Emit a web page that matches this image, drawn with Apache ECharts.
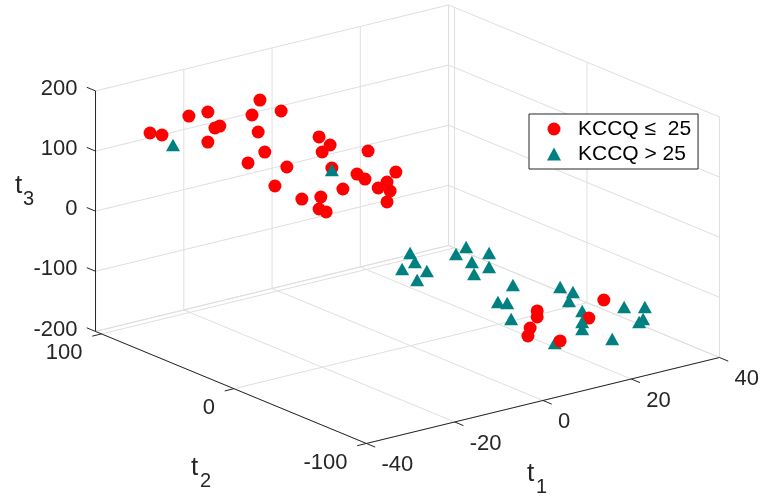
<!DOCTYPE html>
<html>
<head>
<meta charset="utf-8">
<script src="https://cdn.jsdelivr.net/npm/echarts@6/dist/echarts.min.js"></script>
<style>
  html, body { margin: 0; padding: 0; background: #fff; }
  #chart { width: 763px; height: 497px; }
</style>
</head>
<body>
<div id="chart"></div>
<script>
// ---- scores (t1, t2, t3) ----
const lowT1  = [-32.0, -30.8, -27.7, -18.9, -20.3, -22.2, -20.4, -13.4, -7.1, -10.5, -8.3, -7.5, -14.3, -4.0, -3.7, -2.1,
                4.8, 2.8, 4.0, 9.2, 2.2, 4.8, 4.9, 5.7, 13.4, 13.7, 12.9, 19.7, 18.7, 17.9, 22.2, 15.7,
                22.8, 6.2, 9.2, 3.1, 5.6, 17.9, 9.9];
const lowT2  = [90, 85, 75, 90, 80, 70, 85, 75, 90, 80, 70, 85, 75, 80, 90, 75,
                85, 70, 80, 90, 75, 85, 80, 70, 85, 80, 75, 90, 80, 75, 85, 70,
                -70, -75, -65, -80, -70, -75, -80];
const lowT3  = [128.9, 128.0, 163.1, 140.4, 125.4, 141.2, 97.7, 139.3, 139.2, 101.3, 141.4, 58.0, 61.1, 31.4, -9.8, -20.7,
                61.1, 65.0, 42.1, -3.0, -25.0, -58.7, -59.2, -13.4, -15.9, -20.2, 32.4, -54.9, -34.1, -43.0, -28.3, -52.8,
                -101.0, -85.0, -109.4, -103.2, -130.1, -117.7, -136.9];

const highT1 = [-28.3, 4.7,
                -19.6, -21.5, -19.9, -17.3, -22.5, -9.2, -9.9, -3.2, -4.1, -4.7, -5.1, -0.8, -1.2, 2.4, 0.3,
                15.9, 15.8, 13.4, 19.4, 14.9, 17.9, 30.4, 30.6, 33.2, 30.8, 21.7, 13.2];
const highT2 = [85, 75,
                -65, -75, -60, -70, -80, -65, -75, -70, -60, -75, -65, -80, -70, -65, -75,
                -60, -70, -75, -65, -80, -70, -60, -75, -65, -70, -80, -65];
const highT3 = [106.9, 15.4,
                48.4, 45.9, 17.8, 18.9, 22.4, 28.2, 50.2, 23.7, 1.1, 7.6, -12.4, -24.8, -61.4, -74.0, -87.7,
                -76.1, -75.2, -81.3, -117.7, -114.2, -140.3, -135.2, -122.0, -155.7, -151.8, -154.7, -159.9];

const seriesNames = ['KCCQ \u2264  25', 'KCCQ > 25'];

// ---- axes ----
const T1_TICKS = [-40, -20, 0, 20, 40];
const T2_TICKS = [-100, 0, 100];
const T3_TICKS = [-200, -100, 0, 100, 200];
const LIM1 = [-40, 40];
const LIM2 = [-100, 104.5];
const LIM3 = [-200, 200];

// ---- view ----
const VIEW_AZ = -37.5, VIEW_EL = 18.5;
const ASPECT = [1, 1, 0.57];
const SCALE = 445;            // px per unit of the normalised box
const CENTER = [407.5, 224.2];

const RED = '#ff0000';
const TEAL = '#008080';
const GRID_COLOR = '#dfdfdf';
const AXIS_COLOR = '#262626';
const FONT = '"Liberation Sans", Helvetica, Arial, sans-serif';

const rad = Math.PI / 180;
const ca = Math.cos(VIEW_AZ * rad), sa = Math.sin(VIEW_AZ * rad);
const ce = Math.cos(VIEW_EL * rad), se = Math.sin(VIEW_EL * rad);

function nrm(v, lim, a) { return (v - (lim[0] + lim[1]) / 2) / (lim[1] - lim[0]) * a; }
function proj(t1, t2, t3) {
  const x = nrm(t1, LIM1, ASPECT[0]), y = nrm(t2, LIM2, ASPECT[1]), z = nrm(t3, LIM3, ASPECT[2]);
  return {
    u: x * ca + y * sa,
    v: -x * se * sa + y * se * ca + z * ce,
    d: x * sa * ce - y * ca * ce + z * se
  };
}

// projected extent of the box
let umin = Infinity, umax = -Infinity, vmin = Infinity, vmax = -Infinity;
[LIM1[0], LIM1[1]].forEach(a => [LIM2[0], LIM2[1]].forEach(b => [LIM3[0], LIM3[1]].forEach(c => {
  const p = proj(a, b, c);
  umin = Math.min(umin, p.u); umax = Math.max(umax, p.u);
  vmin = Math.min(vmin, p.v); vmax = Math.max(vmax, p.v);
})));

function zip3(a, b, c) { return a.map((v, i) => [v, b[i], c[i]]); }

function frameRender(params, api) {
  const P = (a, b, c) => { const p = proj(a, b, c); return api.coord([p.u, p.v]); };
  const kids = [];
  const line = (p1, p2, color) => kids.push({
    type: 'line', shape: { x1: p1[0], y1: p1[1], x2: p2[0], y2: p2[1] },
    style: { stroke: color, lineWidth: 1 }
  });
  const text = (x, y, str, size, align, color) => kids.push({
    type: 'text',
    style: { x: x, y: y, text: str, fontSize: size, fontFamily: FONT, fill: color || AXIS_COLOR,
             align: align, verticalAlign: 'middle' }
  });
  const [x0, x1] = LIM1, [y0, y1] = LIM2, [z0, z1] = LIM3;
  const t2Walls = T2_TICKS.concat([y1]);

  // back wall (t2 = max)
  T3_TICKS.forEach(z => line(P(x0, y1, z), P(x1, y1, z), GRID_COLOR));
  T1_TICKS.forEach(x => line(P(x, y1, z0), P(x, y1, z1), GRID_COLOR));
  // side wall (t1 = max)
  T3_TICKS.forEach(z => line(P(x1, y0, z), P(x1, y1, z), GRID_COLOR));
  t2Walls.forEach(y => line(P(x1, y, z0), P(x1, y, z1), GRID_COLOR));
  // floor (t3 = min)
  T1_TICKS.forEach(x => line(P(x, y0, z0), P(x, y1, z0), GRID_COLOR));
  t2Walls.forEach(y => line(P(x0, y, z0), P(x1, y, z0), GRID_COLOR));

  // axis lines
  line(P(x0, y0, z0), P(x1, y0, z0), AXIS_COLOR);
  line(P(x0, y0, z0), P(x0, y1, z0), AXIS_COLOR);
  line(P(x0, y1, z0), P(x0, y1, z1), AXIS_COLOR);

  const TL = 9.5;
  const dir = (a, b) => { const dx = b[0] - a[0], dy = b[1] - a[1], l = Math.hypot(dx, dy); return [dx / l, dy / l]; };
  const d1 = dir(P(x0, y1, z0), P(x0, y0, z0));   // toward -t2
  const d2 = dir(P(x1, y0, z0), P(x0, y0, z0));   // toward -t1
  const d3 = dir(P(x0, y0, z0), P(x0, y1, z0));   // toward +t2

  T1_TICKS.forEach(t => {
    const p = P(t, y0, z0);
    line(p, [p[0] + d1[0] * TL, p[1] + d1[1] * TL], AXIS_COLOR);
    text(p[0] + 15, p[1] + 21.5, String(t), 22, 'left');
  });
  T2_TICKS.forEach(t => {
    const p = P(x0, t, z0);
    line(p, [p[0] + d2[0] * TL, p[1] + d2[1] * TL], AXIS_COLOR);
    text(p[0] - 19, p[1] + 19.5, String(t), 22, 'right');
  });
  T3_TICKS.forEach(t => {
    const p = P(x0, y1, t);
    line(p, [p[0] + d3[0] * TL, p[1] + d3[1] * TL], AXIS_COLOR);
    text(p[0] - 18, p[1] - 2, String(t), 22, 'right');
  });

  // axis titles
  const a1 = P((x0 + x1) / 2, y0, z0);
  text(a1[0] - 16, a1[1] + 73.4, 't', 26, 'left');
  text(a1[0] - 7, a1[1] + 87.5, '1', 20, 'left');
  const a2 = P(x0, (y0 + y1) / 2, z0);
  text(a2[0] - 40, a2[1] + 80.5, 't', 26, 'left');
  text(a2[0] - 31, a2[1] + 93.6, '2', 20, 'left');
  const a3 = P(x0, y1, (z0 + z1) / 2);
  text(a3[0] - 80.5, a3[1] - 25.3, 't', 26, 'left');
  text(a3[0] - 72.5, a3[1] - 11.2, '3', 20, 'left');

  return { type: 'group', children: kids };
}

function markerRender(shape, color) {
  return function (params, api) {
    const p = proj(api.value(0), api.value(1), api.value(2));
    const c = api.coord([p.u, p.v]);
    const z2 = Math.round(1000 + p.d * 1000);
    if (shape === 'circle') {
      return { type: 'circle', shape: { cx: c[0], cy: c[1], r: 6.5 }, style: { fill: color }, z2: z2 };
    }
    const w = 14, h = 12.5;
    return {
      type: 'polygon',
      shape: { points: [[c[0], c[1] - h / 2], [c[0] + w / 2, c[1] + h / 2], [c[0] - w / 2, c[1] + h / 2]] },
      style: { fill: color }, z2: z2
    };
  };
}

const chart = echarts.init(document.getElementById('chart'), null, { renderer: 'canvas' });
chart.setOption({
  animation: false,
  backgroundColor: '#ffffff',
  grid: {
    left: CENTER[0] + SCALE * umin,
    top: CENTER[1] - SCALE * vmax,
    width: SCALE * (umax - umin),
    height: SCALE * (vmax - vmin),
    containLabel: false
  },
  xAxis: { type: 'value', min: umin, max: umax, show: false, splitLine: { show: false } },
  yAxis: { type: 'value', min: vmin, max: vmax, show: false, splitLine: { show: false } },
  legend: {
    left: 529, top: 114,
    orient: 'vertical',
    padding: [4, 7, 4, 18],
    itemWidth: 14, itemHeight: 13, itemGap: 3,
    borderColor: AXIS_COLOR, borderWidth: 1,
    backgroundColor: '#ffffff',
    selectedMode: false,
    textStyle: { fontFamily: FONT, fontSize: 21, color: '#000', lineHeight: 22, padding: [0, 0, 0, 12] },
    data: [{ name: seriesNames[0], icon: 'circle' }, { name: seriesNames[1], icon: 'triangle' }]
  },
  series: [
    {
      type: 'custom', name: 'frame', z: 1, silent: true,
      data: [[0, 0, 0]],
      renderItem: frameRender
    },
    {
      type: 'custom', name: seriesNames[0], z: 2,
      itemStyle: { color: RED },
      dimensions: ['t1', 't2', 't3'],
      encode: { x: 0, y: 1 },
      data: zip3(lowT1, lowT2, lowT3),
      renderItem: markerRender('circle', RED)
    },
    {
      type: 'custom', name: seriesNames[1], z: 2,
      itemStyle: { color: TEAL },
      dimensions: ['t1', 't2', 't3'],
      encode: { x: 0, y: 1 },
      data: zip3(highT1, highT2, highT3),
      renderItem: markerRender('triangle', TEAL)
    }
  ]
});
</script>
</body>
</html>
